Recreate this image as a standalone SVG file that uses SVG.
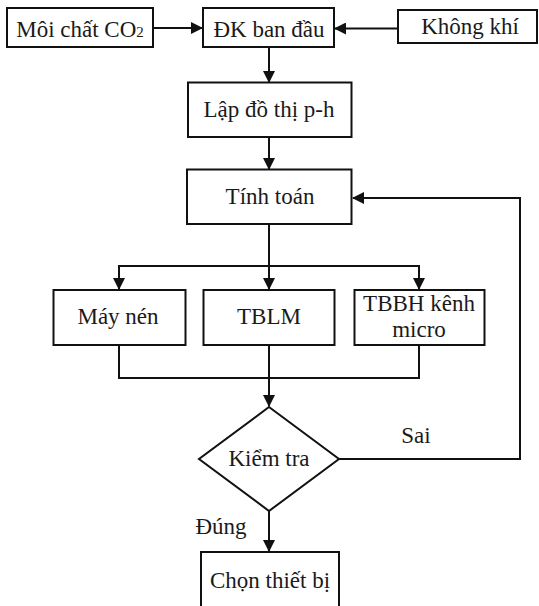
<svg xmlns="http://www.w3.org/2000/svg" width="539" height="606" viewBox="0 0 539 606">
<style>
.box{fill:#fff;stroke:#111;stroke-width:2}
.c{fill:none;stroke:#111;stroke-width:2}
</style>
<defs>
<marker id="ah" markerUnits="userSpaceOnUse" markerWidth="12" markerHeight="12" refX="11" refY="6" orient="auto">
<path d="M0,0 L12,6 L0,12 z" fill="#111"/>
</marker>
</defs>
<rect width="539" height="606" fill="#fff"/>
<g id="connectors">
<line class="c" x1="153" y1="28" x2="202" y2="28" marker-end="url(#ah)"/>
<line class="c" x1="398" y1="28.5" x2="335" y2="28.5" marker-end="url(#ah)"/>
<line class="c" x1="269" y1="47" x2="269" y2="82" marker-end="url(#ah)"/>
<line class="c" x1="269" y1="137" x2="269" y2="169" marker-end="url(#ah)"/>
<line class="c" x1="269" y1="224" x2="269" y2="289" marker-end="url(#ah)"/>
<path class="c" d="M119,289 V266 H419 V289"/>
<line class="c" x1="119" y1="270" x2="119" y2="289" marker-end="url(#ah)"/>
<line class="c" x1="419" y1="270" x2="419" y2="289" marker-end="url(#ah)"/>
<path class="c" d="M119,345 V378 H419 V345"/>
<line class="c" x1="269" y1="345" x2="269" y2="406" marker-end="url(#ah)"/>
<path class="c" d="M339,459 H520 V198 H353" marker-end="url(#ah)"/>
<line class="c" x1="269" y1="511" x2="269" y2="551" marker-end="url(#ah)"/>
</g>
<g font-family="Liberation Serif" font-size="23" fill="#1a1a1a" text-anchor="middle">
<g id="n-moichat">
<rect class="box" x="7" y="8" width="146" height="39"/>
<text x="80" y="37">Môi chất CO<tspan font-size="15">2</tspan></text>
</g>
<g id="n-dk">
<rect class="box" x="203" y="8" width="131" height="39"/>
<text x="269" y="37">ĐK ban đầu</text>
</g>
<g id="n-khongkhi">
<rect class="box" x="398" y="10" width="139" height="33"/>
<text x="470" y="34">Không khí</text>
</g>
<g id="n-lapdothi">
<rect class="box" x="188" y="82.5" width="163.5" height="54.5"/>
<text x="269" y="117">Lập đồ thị p-h</text>
</g>
<g id="n-tinhtoan">
<rect class="box" x="187" y="169.5" width="164.5" height="54.5"/>
<text x="270" y="204">Tính toán</text>
</g>
<g id="n-maynen">
<rect class="box" x="53.5" y="290" width="132" height="55"/>
<text x="118" y="324">Máy nén</text>
</g>
<g id="n-tblm">
<rect class="box" x="203.5" y="290" width="131" height="55"/>
<text x="269" y="324">TBLM</text>
</g>
<g id="n-tbbh">
<rect class="box" x="354.5" y="290" width="130" height="55"/>
<text x="419" y="311">TBBH kênh</text>
<text x="419" y="337">micro</text>
</g>
<g id="n-kiemtra">
<polygon class="box" points="269,407 339,459 269,511 199,459"/>
<text x="269" y="466">Kiểm tra</text>
</g>
<g id="l-sai">
<text x="416" y="443">Sai</text>
</g>
<g id="l-dung">
<text x="221" y="534">Đúng</text>
</g>
<g id="n-chon">
<rect class="box" x="201" y="552" width="138" height="70"/>
<text x="270" y="588">Chọn thiết bị</text>
</g>
</g>
</svg>
